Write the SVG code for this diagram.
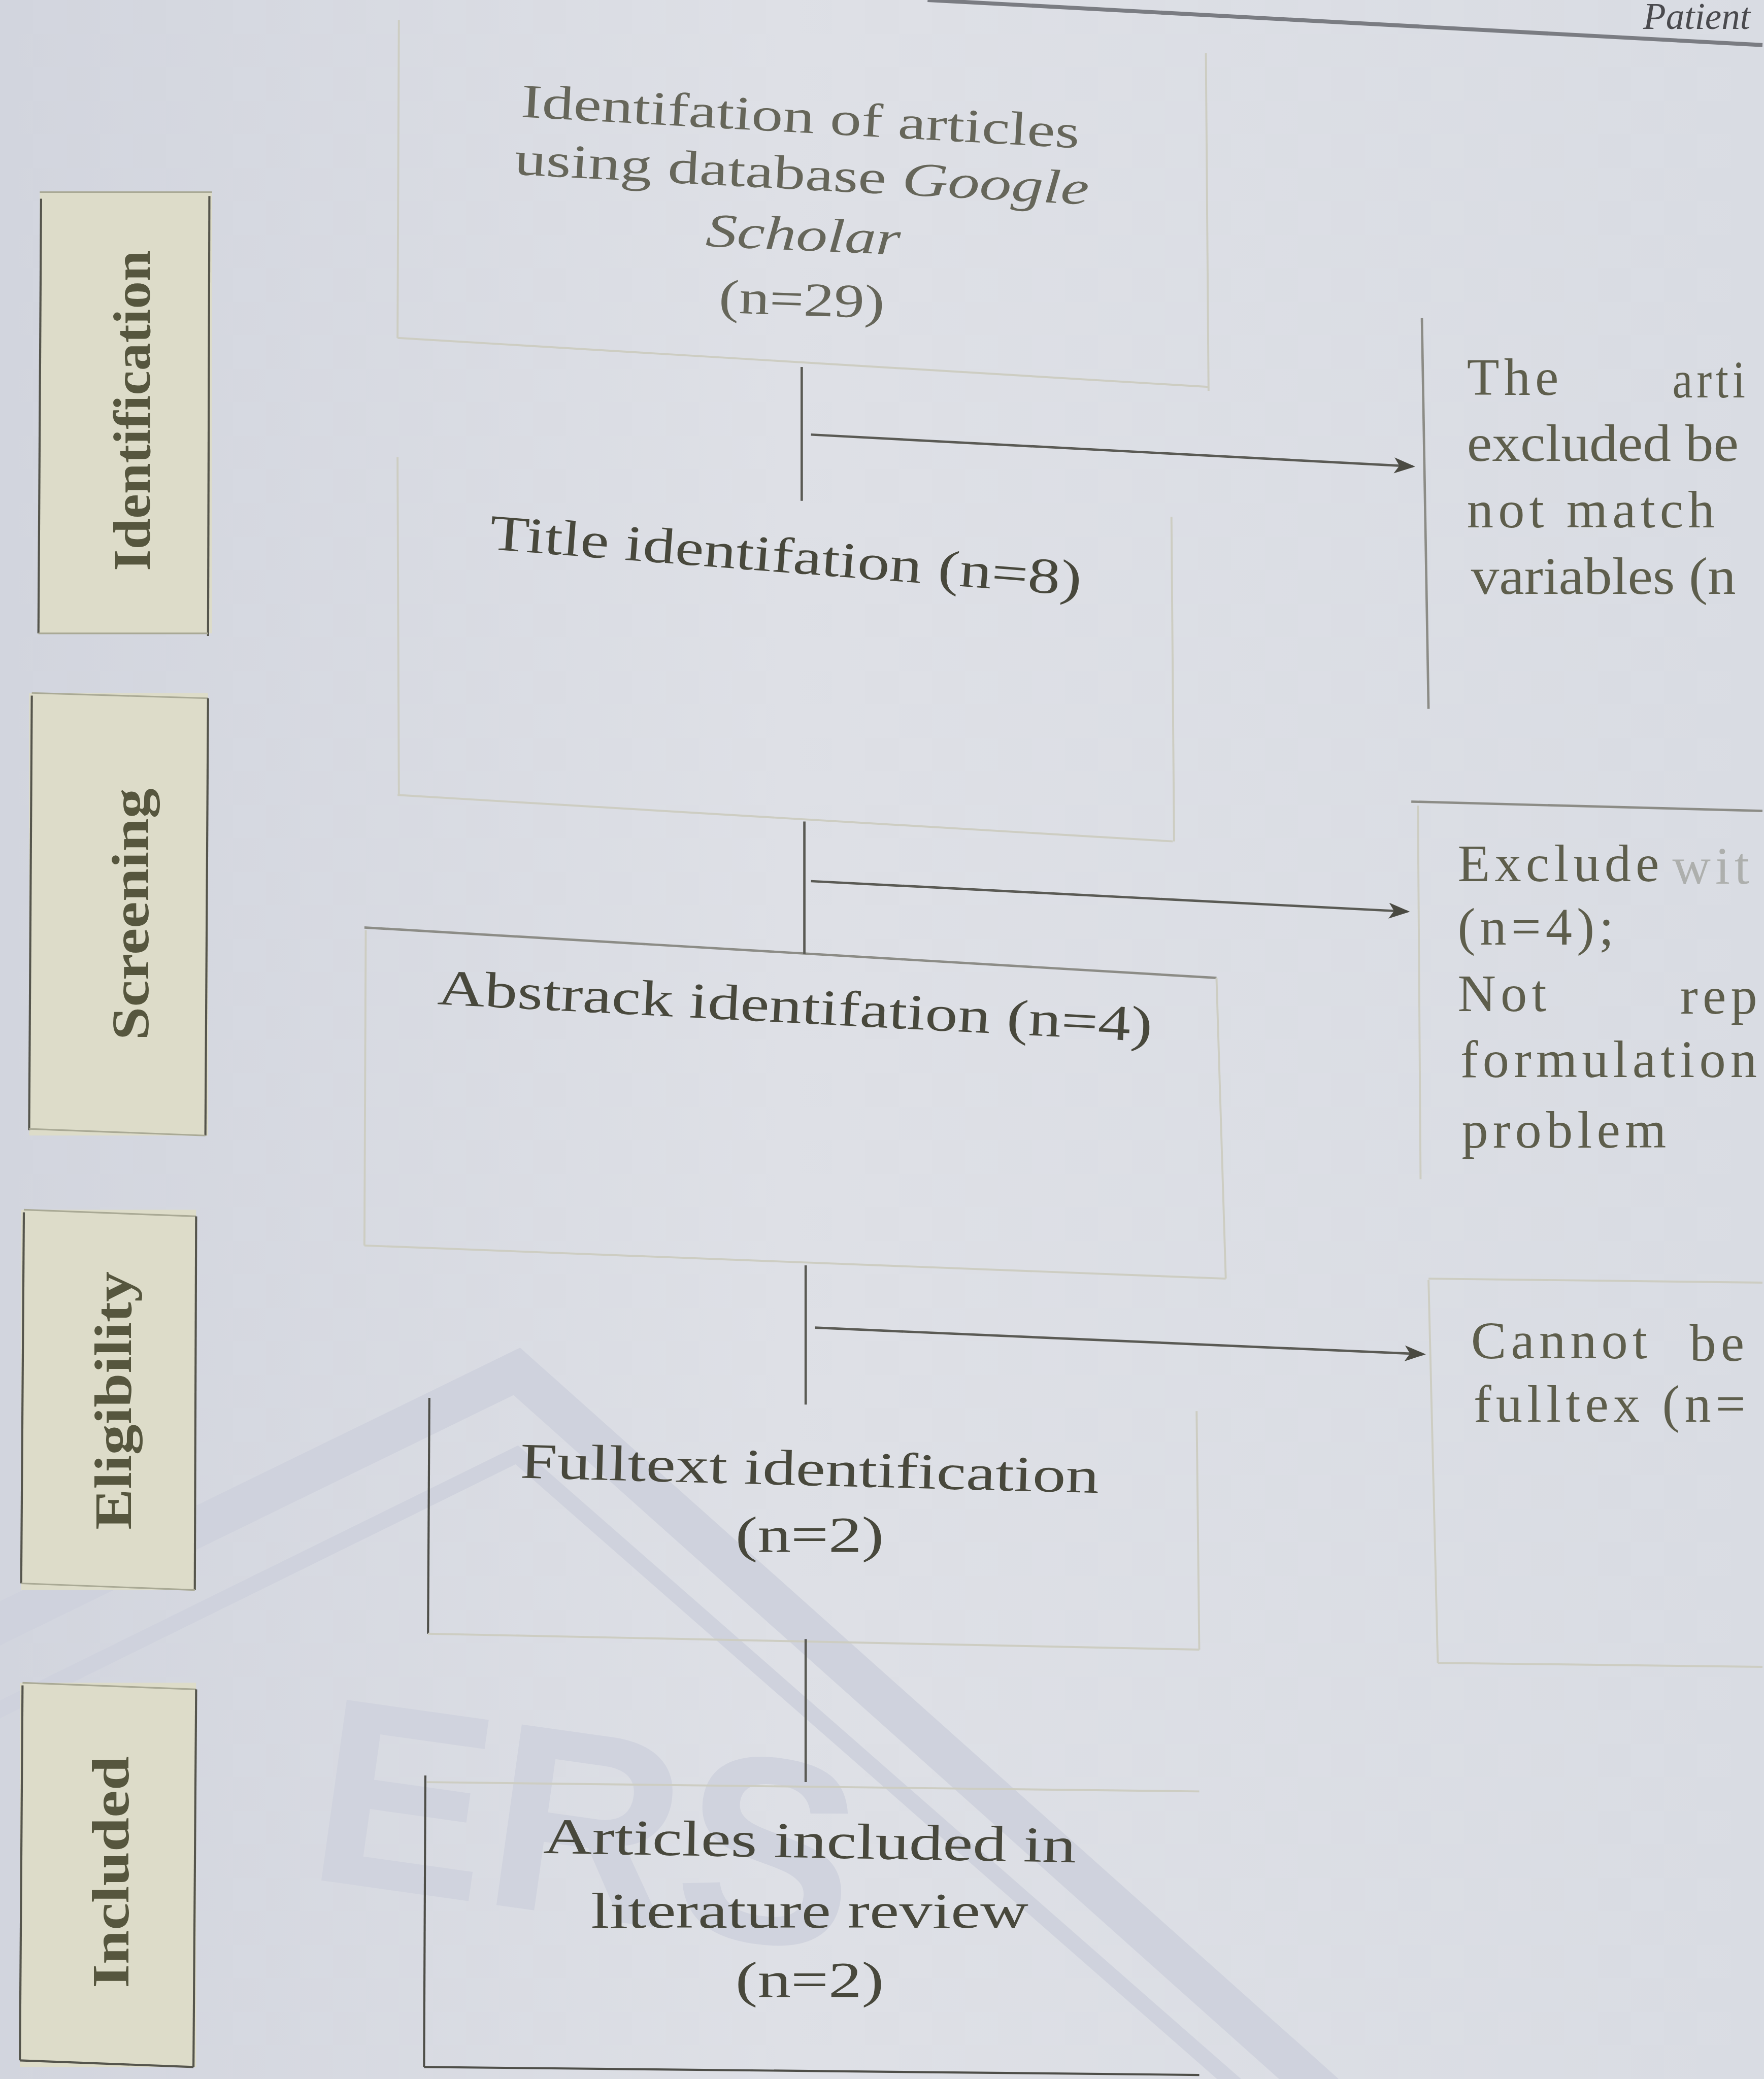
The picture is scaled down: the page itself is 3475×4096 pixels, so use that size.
<svg xmlns="http://www.w3.org/2000/svg" width="3475" height="4096" viewBox="0 0 3475 4096">
<defs>
<linearGradient id="bgGrad" x1="0" y1="0" x2="1" y2="0">
<stop offset="0" stop-color="#d2d5de"/>
<stop offset="0.45" stop-color="#dee0e6"/>
<stop offset="1" stop-color="#d9dce3"/>
</linearGradient>
<marker id="arrow" markerUnits="userSpaceOnUse" markerWidth="16" markerHeight="12" refX="14" refY="6" orient="auto">
<path d="M0,0 L16,6 L0,12 L4,6 z" fill="#4a4a42"/>
</marker>
<style>
.lblbox{fill:#dddcc9}
.lbledge{stroke:#55554c;stroke-width:1.6;fill:none}
.lbledgef{stroke:#a9a995;stroke-width:1.2;fill:none}
.lbltext{font-family:"Liberation Serif",serif;font-weight:bold;font-size:40px;fill:#56563e}
.main{font-family:"Liberation Serif",serif;font-size:38px;fill:#48483c}
.top{font-family:"Liberation Serif",serif;font-size:36px;fill:#66665a}
.side{font-family:"Liberation Serif",serif;font-size:40px;fill:#5e5e4c;letter-spacing:3.5px}
.sidefit{font-family:"Liberation Serif",serif;font-size:40px;fill:#5e5e4c}
.faint{stroke:#cdcdc2;stroke-width:1.5;fill:none}
.mid{stroke:#8c8c86;stroke-width:1.8;fill:none}
.dark{stroke:#4e4e48;stroke-width:1.6;fill:none}
.conn{stroke:#5a5a54;stroke-width:1.8;fill:none}
.wm{stroke:#cfd2dd;fill:none}
.wmtext{font-family:"Liberation Sans",sans-serif;font-weight:bold;font-size:200px;fill:#d0d3de}
</style>
</defs>
<rect x="0" y="0" width="3475" height="4096" fill="url(#bgGrad)"/>
<g transform="scale(2.6105)">
<g id="watermark">
<polyline class="wm" stroke-width="30" points="-10,1230 390,1035 1000,1580"/>
<polyline class="wm" stroke-width="12" points="-10,1295 390,1098 940,1580"/>
<text class="wmtext" x="235" y="1445" transform="rotate(8 430 1390)">ERS</text>
</g>
<g id="page-edge">
<line x1="700" y1="0" x2="1330" y2="34" stroke="#7a7c82" stroke-width="3"/>
<text x="1240" y="22" font-family="Liberation Serif,serif" font-style="italic" font-size="28" fill="#4a4a4e">Patient</text>
</g>
<g id="label-identification">
<rect class="lblbox" x="30" y="145" width="130" height="333"/>
<line class="lbledgef" x1="30" y1="145" x2="160" y2="145"/>
<line class="lbledge" x1="31" y1="150" x2="29" y2="478"/>
<line class="lbledge" x1="158" y1="148" x2="157" y2="480" stroke-width="2.2"/>
<line class="lbledgef" x1="29" y1="478" x2="157" y2="478"/>
<text class="lbltext" transform="translate(113 310) rotate(-90)" text-anchor="middle" textLength="242" lengthAdjust="spacingAndGlyphs">Identification</text>
</g>
<g id="label-screening">
<rect class="lblbox" x="22" y="523" width="135" height="334"/>
<line class="lbledgef" x1="24" y1="523" x2="157" y2="527"/>
<line class="lbledge" x1="24" y1="525" x2="22" y2="853"/>
<line class="lbledge" x1="157" y1="527" x2="155" y2="857" stroke-width="2.2"/>
<line class="lbledgef" x1="22" y1="852" x2="155" y2="857"/>
<text class="lbltext" transform="translate(112 690) rotate(-90)" text-anchor="middle" textLength="190" lengthAdjust="spacingAndGlyphs">Screening</text>
</g>
<g id="label-eligibility">
<rect class="lblbox" x="16" y="913" width="132" height="287"/>
<line class="lbledgef" x1="18" y1="913" x2="148" y2="918"/>
<line class="lbledge" x1="18" y1="915" x2="16" y2="1195"/>
<line class="lbledge" x1="148" y1="918" x2="147" y2="1200" stroke-width="2"/>
<line class="lbledgef" x1="16" y1="1195" x2="147" y2="1200"/>
<text class="lbltext" transform="translate(99 1057) rotate(-90)" text-anchor="middle" textLength="195" lengthAdjust="spacingAndGlyphs">Eligibility</text>
</g>
<g id="label-included">
<rect class="lblbox" x="15" y="1270" width="133" height="290"/>
<line class="lbledgef" x1="17" y1="1270" x2="148" y2="1275"/>
<line class="lbledge" x1="17" y1="1272" x2="15" y2="1555"/>
<line class="lbledge" x1="148" y1="1275" x2="146" y2="1560" stroke-width="2"/>
<line class="lbledge" x1="15" y1="1555" x2="146" y2="1560"/>
<text class="lbltext" transform="translate(97 1413) rotate(-90)" text-anchor="middle" textLength="175" lengthAdjust="spacingAndGlyphs">Included</text>
</g>
<g id="node-identification">
<line class="faint" x1="301" y1="15" x2="300" y2="255"/>
<line class="faint" x1="910" y1="40" x2="912" y2="295"/>
<line class="faint" x1="300" y1="255" x2="912" y2="292"/>
<text class="top" x="604" y="100" text-anchor="middle" textLength="422" lengthAdjust="spacingAndGlyphs" transform="rotate(3.2 604 90)">Identifation of articles</text>
<text class="top" x="605" y="143" text-anchor="middle" textLength="434" lengthAdjust="spacingAndGlyphs" transform="rotate(3 605 133)">using database <tspan font-style="italic">Google</tspan></text>
<text class="top" x="606" y="189" text-anchor="middle" font-style="italic" textLength="147" lengthAdjust="spacingAndGlyphs" transform="rotate(2.5 606 180)">Scholar</text>
<text class="top" x="605" y="238" text-anchor="middle" textLength="125" lengthAdjust="spacingAndGlyphs" transform="rotate(2 605 228)">(n=29)</text>
</g>
<g id="node-title">
<line class="faint" x1="300" y1="345" x2="301" y2="600"/>
<line class="faint" x1="300" y1="600" x2="885" y2="635"/>
<line class="faint" x1="884" y1="390" x2="886" y2="635"/>
<text class="main" x="593" y="432" text-anchor="middle" textLength="448" lengthAdjust="spacingAndGlyphs" transform="rotate(4.5 593 420)">Title identifation (n=8)</text>
</g>
<g id="node-abstract">
<line class="mid" x1="275" y1="700" x2="918" y2="738"/>
<line class="faint" x1="276" y1="702" x2="275" y2="940"/>
<line class="faint" x1="918" y1="738" x2="925" y2="965"/>
<line class="faint" x1="275" y1="940" x2="925" y2="965"/>
<text class="main" x="600" y="772" text-anchor="middle" textLength="540" lengthAdjust="spacingAndGlyphs" transform="rotate(3 600 760)">Abstrack identifation (n=4)</text>
</g>
<g id="node-fulltext">
<line class="dark" x1="324" y1="1055" x2="323" y2="1233"/>
<line class="faint" x1="323" y1="1233" x2="905" y2="1245"/>
<line class="faint" x1="903" y1="1065" x2="905" y2="1245"/>
<text class="main" x="611" y="1121" text-anchor="middle" textLength="437" lengthAdjust="spacingAndGlyphs" transform="rotate(1.5 611 1110)">Fulltext identification</text>
<text class="main" x="611" y="1171" text-anchor="middle" textLength="112" lengthAdjust="spacingAndGlyphs">(n=2)</text>
</g>
<g id="node-included">
<line class="dark" x1="321" y1="1340" x2="320" y2="1560"/>
<line class="faint" x1="322" y1="1345" x2="905" y2="1352"/>
<line class="dark" x1="320" y1="1560" x2="905" y2="1566"/>
<text class="main" x="611" y="1402" text-anchor="middle" textLength="402" lengthAdjust="spacingAndGlyphs" transform="rotate(1 611 1390)">Articles included in</text>
<text class="main" x="611" y="1455" text-anchor="middle" textLength="330" lengthAdjust="spacingAndGlyphs">literature review</text>
<text class="main" x="611" y="1507" text-anchor="middle" textLength="112" lengthAdjust="spacingAndGlyphs">(n=2)</text>
</g>
<g id="node-excluded-variables">
<line class="mid" x1="1073" y1="240" x2="1078" y2="535"/>
<text class="side" x="1107" y="298">The</text>
<text class="side" x="1262" y="300" textLength="58" lengthAdjust="spacingAndGlyphs">arti</text>
<text class="sidefit" x="1107" y="348" textLength="205" lengthAdjust="spacingAndGlyphs">excluded be</text>
<text class="side" x="1107" y="398">not match</text>
<text class="sidefit" x="1110" y="448" textLength="200" lengthAdjust="spacingAndGlyphs">variables (n</text>
</g>
<g id="node-excluded-problem">
<line class="mid" x1="1065" y1="605" x2="1330" y2="612"/>
<line class="faint" x1="1070" y1="608" x2="1072" y2="890"/>
<text class="side" x="1100" y="665">Exclude</text>
<text class="side" x="1262" y="667" opacity="0.35">wit</text>
<text class="side" x="1100" y="713">(n=4);</text>
<text class="side" x="1100" y="763">Not</text>
<text class="side" x="1268" y="765">rep</text>
<text class="side" x="1102" y="813">formulation</text>
<text class="side" x="1103" y="866">problem</text>
</g>
<g id="node-no-fulltext">
<line class="faint" x1="1078" y1="965" x2="1330" y2="968"/>
<line class="faint" x1="1078" y1="966" x2="1085" y2="1255"/>
<line class="faint" x1="1085" y1="1255" x2="1330" y2="1258"/>
<text class="side" x="1110" y="1025">Cannot</text>
<text class="side" x="1275" y="1027">be</text>
<text class="side" x="1112" y="1073">fulltex (n=</text>
</g>
<g id="connectors">
<line class="conn" x1="605" y1="277" x2="605" y2="378"/>
<line class="conn" x1="612" y1="328" x2="1066" y2="352" marker-end="url(#arrow)"/>
<line class="conn" x1="607" y1="620" x2="607" y2="720"/>
<line class="conn" x1="612" y1="665" x2="1062" y2="688" marker-end="url(#arrow)"/>
<line class="conn" x1="608" y1="955" x2="608" y2="1060"/>
<line class="conn" x1="615" y1="1002" x2="1074" y2="1022" marker-end="url(#arrow)"/>
<line class="conn" x1="608" y1="1237" x2="608" y2="1345"/>
</g>
</g>
</svg>
